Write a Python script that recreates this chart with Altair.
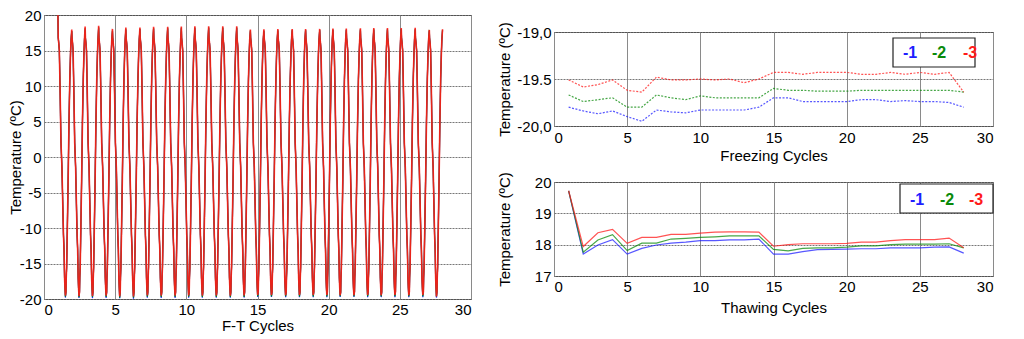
import altair as alt
import pandas as pd

# ---------------- data ----------------
sensors = ["-1", "-2", "-3"]
sensor_colors = ["#1f1fff", "#0a8a0a", "#ff1a1a"]

cycles = list(range(1, 29))

freeze_1 = [-19.80, -19.84, -19.87, -19.84, -19.90, -19.95, -19.83, -19.85, -19.86, -19.83,
            -19.83, -19.83, -19.83, -19.80, -19.70, -19.70, -19.74, -19.74, -19.74, -19.74,
            -19.72, -19.72, -19.74, -19.73, -19.74, -19.74, -19.75, -19.80]
freeze_2 = [-19.67, -19.74, -19.72, -19.70, -19.80, -19.80, -19.67, -19.70, -19.72, -19.68,
            -19.70, -19.70, -19.70, -19.70, -19.60, -19.62, -19.62, -19.63, -19.63, -19.63,
            -19.62, -19.62, -19.62, -19.62, -19.62, -19.62, -19.62, -19.64]
freeze_3 = [-19.51, -19.585, -19.56, -19.51, -19.62, -19.64, -19.48, -19.51, -19.51, -19.50,
            -19.51, -19.50, -19.54, -19.50, -19.43, -19.43, -19.45, -19.43, -19.43, -19.43,
            -19.45, -19.45, -19.43, -19.45, -19.43, -19.45, -19.43, -19.64]

thaw_1 = [19.72, 17.70, 17.99, 18.16, 17.70, 17.88, 17.99, 18.05, 18.08, 18.13,
          18.13, 18.15, 18.15, 18.18, 17.70, 17.70, 17.78, 17.84, 17.85, 17.86,
          17.87, 17.87, 17.90, 17.90, 17.90, 17.92, 17.93, 17.73]
thaw_2 = [19.72, 17.76, 18.15, 18.32, 17.81, 18.05, 18.05, 18.18, 18.20, 18.23,
          18.25, 18.28, 18.28, 18.28, 17.85, 17.80, 17.88, 17.90, 17.90, 17.92,
          17.96, 17.96, 18.00, 18.02, 18.02, 18.02, 18.03, 17.90]
thaw_3 = [19.72, 17.94, 18.38, 18.49, 18.04, 18.23, 18.23, 18.33, 18.33, 18.37,
          18.40, 18.41, 18.41, 18.40, 17.95, 18.00, 18.03, 18.03, 18.03, 18.04,
          18.08, 18.08, 18.13, 18.16, 18.16, 18.16, 18.21, 17.90]

# F-T record (left panel): time of each temperature maximum
ft_peak_time = [0.98, 1.95, 2.89, 3.84, 4.81, 5.75, 6.74, 7.70, 8.69, 9.65,
                10.60, 11.57, 12.56, 13.54, 14.50, 15.45, 16.43, 17.44, 18.38, 19.37,
                20.30, 21.24, 22.23, 23.17, 24.13, 25.10, 26.08, 27.07, 28.00]
ft_first_peak = [20.0, 20.0, 20.0]
ft_last_peak = [17.8, 17.9, 18.0]
# shape of one cycle between two maxima (fraction of the cycle, temperature);
# None marks the maximum (start) and "min" the minimum of the cycle
shape_phase = [0.00, 0.02, 0.06, 0.10, 0.15, 0.22, 0.26, 0.29, 0.33, 0.40, 0.44, 0.48,
               0.51, 0.54, 0.58, 0.60, 0.63, 0.68, 0.74, 0.80, 0.86, 0.91, 0.95]
shape_temp = [None, 16.8, 16.0, 15.0, 10.0, 2.0, 0.0, -1.5, -5.0, -11.0, -13.0, -17.0,
              -18.5, "min", -19.0, -17.0, -15.5, -10.0, -3.0, 5.0, 11.0, 14.5, 16.5]

# ---------------- tables ----------------
freeze = [freeze_1, freeze_2, freeze_3]
thaw = [thaw_1, thaw_2, thaw_3]

rows_fr, rows_th, rows_ft = [], [], []
for s, name in enumerate(sensors):
    for i, c in enumerate(cycles):
        rows_fr.append({"cycle": c, "T": freeze[s][i], "sensor": name})
        rows_th.append({"cycle": c, "T": thaw[s][i], "sensor": name})
    for k in range(len(ft_peak_time) - 1):
        t0, t1 = ft_peak_time[k], ft_peak_time[k + 1]
        peak = ft_first_peak[s] if k == 0 else thaw[s][k]
        for ph, tv in zip(shape_phase, shape_temp):
            if tv is None:
                val = peak
            elif tv == "min":
                val = freeze[s][k]
            else:
                val = tv
            rows_ft.append({"t": t0 + ph * (t1 - t0), "T": val, "sensor": name})
    rows_ft.append({"t": ft_peak_time[-1], "T": ft_last_peak[s], "sensor": name})

df_fr = pd.DataFrame(rows_fr)
df_th = pd.DataFrame(rows_th)
df_ft = pd.DataFrame(rows_ft)

# ---------------- styling ----------------
FONT = "Liberation Sans"
color = alt.Color("sensor:N", scale=alt.Scale(domain=sensors, range=sensor_colors), legend=None)
x_ticks = list(range(0, 31, 5))

def x_axis(title, label_pad=3, title_pad=1):
    return alt.Axis(values=x_ticks, title=title, labelExpr="datum.value + ''",
                    grid=True, gridColor="#8a8a8a", gridWidth=1,
                    labelPadding=label_pad, titlePadding=title_pad)

def y_axis(values, expr, title_x):
    return alt.Axis(values=values, title="Temperature (ºC)", labelExpr=expr,
                    grid=True, gridColor="#777777", gridDash=[2, 1], gridWidth=1,
                    labelPadding=3, titleX=title_x)

W_L, H_L = 427, 284
W_R, H_R = 439, 94

left_base = alt.Chart(df_ft).encode(
    x=alt.X("t:Q", scale=alt.Scale(domain=[0, 30], nice=False), axis=x_axis("F-T Cycles")),
    y=alt.Y("T:Q", scale=alt.Scale(domain=[-20, 20], nice=False),
            axis=y_axis(list(range(-20, 21, 5)), "datum.value + ''", -21)),
    color=color,
)
left_under = left_base.mark_line(strokeWidth=1.2, clip=True).transform_filter(
    alt.FieldOneOfPredicate(field="sensor", oneOf=sensors[:2]))
left_red = left_base.mark_line(strokeWidth=1.6, clip=True, opacity=0.9).transform_filter(
    alt.FieldEqualPredicate(field="sensor", equal=sensors[2]))
left = alt.layer(left_under, left_red).properties(width=W_L, height=H_L)


def legend_layers(box, label_x, label_y):
    x0, x1, y0, y1 = box
    layers = [alt.Chart(pd.DataFrame({"s": ["box"]})).mark_rect(
        fill="white", stroke="#222222", strokeWidth=1.2).encode(
        x=alt.value(x0), x2=alt.value(x1), y=alt.value(y0), y2=alt.value(y1))]
    for name, col, lx in zip(sensors, sensor_colors, label_x):
        layers.append(alt.Chart(pd.DataFrame({"s": [name]})).mark_text(
            font=FONT, fontSize=16, fontWeight="bold", color=col,
            align="center", baseline="middle").encode(
            x=alt.value(lx), y=alt.value(label_y), text="s:N"))
    return layers


top_lines = alt.Chart(df_fr).mark_line(strokeWidth=1.2, strokeDash=[2, 1.5], opacity=0.75).encode(
    x=alt.X("cycle:Q", scale=alt.Scale(domain=[0, 30], nice=False),
            axis=x_axis("Freezing Cycles", 4, 3)),
    y=alt.Y("T:Q", scale=alt.Scale(domain=[-20, -19], nice=False),
            axis=y_axis([-20, -19.5, -19],
                        "datum.value == -19.5 ? '-19.5' : (datum.value == -19 ? '-19,0' : '-20,0')",
                        -42)),
    color=color,
)
top = alt.layer(top_lines, *legend_layers((339, 421, 6, 35), [356, 385, 416], 21)).properties(
    width=W_R, height=H_R)

bot_lines = alt.Chart(df_th).mark_line(strokeWidth=1.2, opacity=0.75).encode(
    x=alt.X("cycle:Q", scale=alt.Scale(domain=[0, 30], nice=False),
            axis=x_axis("Thawing Cycles", 3, 6)),
    y=alt.Y("T:Q", scale=alt.Scale(domain=[17, 20], nice=False),
            axis=y_axis([17, 18, 19, 20], "datum.value + ''", -42)),
    color=color,
)
bottom = alt.layer(bot_lines, *legend_layers((346, 439, 2, 31), [363, 393, 422], 18)).properties(
    width=W_R, height=H_R)

spacer = alt.Chart(pd.DataFrame({"a": [0]})).mark_point(opacity=0).encode(
    x=alt.X("a:Q", axis=None), y=alt.Y("a:Q", axis=None)
).properties(width=W_R, height=17, view=alt.ViewBackground(stroke="transparent"))

right = alt.vconcat(spacer, alt.vconcat(top, bottom, spacing=56, bounds="flush"),
                    spacing=0, bounds="flush")

chart = alt.hconcat(left, right, spacing=83, bounds="flush").properties(
    padding={"left": -1, "top": -1, "right": 5, "bottom": 5}
).configure(background="white").configure_view(
    stroke="#333333", strokeWidth=1
).configure_axis(
    labelFont=FONT, titleFont=FONT, labelFontSize=15, titleFontSize=15,
    titleFontWeight="normal", labelColor="black", titleColor="black",
    domain=False, ticks=False,
)

chart.save("out.html", embed_options={"renderer": "svg", "actions": False})
